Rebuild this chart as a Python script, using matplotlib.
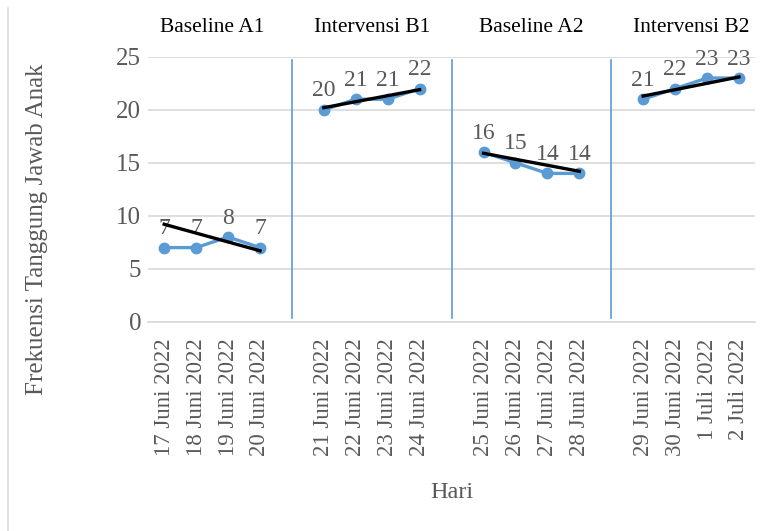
import matplotlib.pyplot as plt
import numpy as np

plt.rcParams['font.family'] = ['Liberation Serif', 'DejaVu Serif']

# frekuensi tanggung jawab anak per fase
fase = ["Baseline A1", "Intervensi B1", "Baseline A2", "Intervensi B2"]
tanggal = [
    ["17 Juni 2022", "18 Juni 2022", "19 Juni 2022", "20 Juni 2022"],
    ["21 Juni 2022", "22 Juni 2022", "23 Juni 2022", "24 Juni 2022"],
    ["25 Juni 2022", "26 Juni 2022", "27 Juni 2022", "28 Juni 2022"],
    ["29 Juni 2022", "30 Juni 2022", "1 Juli 2022", "2 Juli 2022"],
]
nilai = [
    [7, 7, 8, 7],
    [20, 21, 21, 22],
    [16, 15, 14, 14],
    [21, 22, 23, 23],
]
# garis kecenderungan (awal, akhir) tiap fase
tren = [
    (9.2, 6.7),
    (20.2, 21.9),
    (15.9, 14.2),
    (21.3, 23.1),
]

biru = "#5B9BD5"
abu = "#595959"

fig = plt.figure(figsize=(7.68, 5.31), dpi=100)
ax = fig.add_axes([0.193, 0.394, 0.79, 0.499])

n_slot = len(fase) * 5 - 1  # satu slot kosong di antara fase
ticks, labels = [], []
for i, (tgl, val, (t0, t1)) in enumerate(zip(tanggal, nilai, tren)):
    x = np.arange(len(val)) + i * 5
    ax.plot(x, val, color=biru, lw=2.4, marker="o", ms=7.5, zorder=3)
    ax.plot([x[0], x[-1]], [t0, t1], color="black", lw=2.4, zorder=4)
    for xi, v in zip(x, val):
        ax.annotate(str(v), (xi, v), xytext=(0, 6), textcoords="offset points",
                    ha="center", va="bottom", fontsize=17, color=abu)
    ticks.extend(x)
    labels.extend(tgl)
    # judul fase di atas area plot
    ax.annotate(fase[i], xy=(x.mean(), 1), xycoords=("data", "axes fraction"),
                xytext=(0, 21), textcoords="offset points",
                ha="center", va="center", fontsize=15.5, color="black")
    # garis pemisah fase
    if i > 0:
        ax.plot([i * 5 - 1, i * 5 - 1], [0.4, 24.7], color=biru, lw=1.2, zorder=2)

ax.set_xlim(-0.5, n_slot - 0.5)
ax.set_ylim(0, 25)
ax.set_yticks(range(0, 26, 5))
ax.set_xticks(ticks)
ax.set_xticklabels(labels, rotation=90, fontsize=16.5, color=abu)
ax.tick_params(axis="y", labelsize=18, labelcolor=abu, length=0, pad=5)
ax.tick_params(axis="x", length=0, pad=12)
ax.grid(axis="y", color="#D9D9D9", lw=1.2)
ax.set_axisbelow(True)
for s in ["top", "right", "left"]:
    ax.spines[s].set_visible(False)
ax.spines["bottom"].set_color("#D9D9D9")
ax.spines["bottom"].set_linewidth(1.2)

fig.text(37 / 768, 1 - 229 / 531, "Frekuensi Tanggung Jawab Anak", rotation=90,
         ha="center", va="center", fontsize=18, color=abu)
fig.text(452 / 768, 1 - 492 / 531, "Hari", ha="center", va="center", fontsize=17.5, color=abu)
fig.add_artist(plt.Line2D([8 / 768, 8 / 768], [0, 1 - 8 / 531], transform=fig.transFigure,
                          color="#D9D9D9", lw=1.2))

fig.savefig("out.png", dpi=100)
